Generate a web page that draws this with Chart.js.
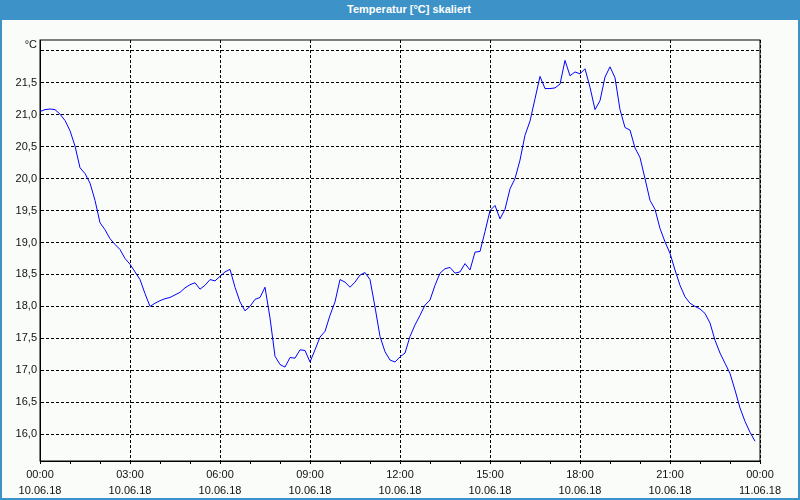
<!DOCTYPE html>
<html>
<head>
<meta charset="utf-8">
<script src="https://cdn.jsdelivr.net/npm/chart.js@4.4.1/dist/chart.umd.min.js"></script>
<style>
  html, body { margin: 0; padding: 0; background: #fff; }
  #frame { position: relative; width: 800px; height: 500px; background: #fafcfa; box-sizing: border-box;
           border-left: 2px solid #3d92c8; border-right: 2px solid #3d92c8; border-bottom: 2px solid #3d92c8; }
  #title { position: absolute; left: -2px; top: 0; width: 800px; height: 20px; background: #3d92c8;
           color: #fff; font: bold 11px "Liberation Sans", Arial, sans-serif; line-height: 19px; text-align: center; text-indent: 18px; }
  #wrap { position: absolute; left: -2px; top: 20px; width: 800px; height: 478px; }
</style>
</head>
<body>
<div id="frame">
  <div id="title">Temperatur [°C] skaliert</div>
  <div id="wrap"><canvas id="chart"></canvas></div>
</div>
<script>
// Messreihe 10.06.18, alle 10 Minuten ab 00:00
const startDate = "10.06.18";
const endDate = "11.06.18";
const stepMinutes = 10;
const temperatures = [
  21.05, 21.08, 21.09, 21.08, 21.01, 20.91, 20.75, 20.51, 20.17, 20.08, 19.93, 19.66,
  19.31, 19.20, 19.06, 18.97, 18.89, 18.75, 18.66, 18.54, 18.42, 18.20, 18.00, 18.05,
  18.09, 18.12, 18.14, 18.18, 18.22, 18.29, 18.34, 18.37, 18.27, 18.33, 18.42, 18.40,
  18.47, 18.54, 18.58, 18.30, 18.07, 17.93, 18.00, 18.11, 18.14, 18.30, 17.82, 17.22,
  17.09, 17.05, 17.20, 17.19, 17.32, 17.31, 17.13, 17.32, 17.52, 17.61, 17.86, 18.07,
  18.42, 18.38, 18.30, 18.38, 18.49, 18.53, 18.42, 17.99, 17.53, 17.29, 17.16, 17.13,
  17.21, 17.27, 17.53, 17.71, 17.86, 18.02, 18.10, 18.33, 18.52, 18.59, 18.61, 18.52,
  18.54, 18.67, 18.57, 18.85, 18.86, 19.17, 19.50, 19.58, 19.37, 19.52, 19.84, 20.00,
  20.29, 20.68, 20.90, 21.25, 21.60, 21.41, 21.41, 21.42, 21.48, 21.85, 21.61, 21.67,
  21.64, 21.72, 21.43, 21.08, 21.22, 21.59, 21.75, 21.58, 21.08, 20.80, 20.76, 20.48,
  20.33, 20.00, 19.66, 19.52, 19.22, 19.01, 18.83, 18.57, 18.33, 18.15, 18.05, 18.00,
  17.96, 17.89, 17.74, 17.47, 17.27, 17.11, 16.95, 16.69, 16.41, 16.20, 16.03, 15.89
];
const yTicks = [16.0, 16.5, 17.0, 17.5, 18.0, 18.5, 19.0, 19.5, 20.0, 20.5, 21.0, 21.5, 22.0];
const xLabelHours = [0, 3, 6, 9, 12, 15, 18, 21, 24];
const yUnit = "°C";

const points = temperatures.map((t, i) => ({ x: i * stepMinutes / 60, y: t }));

const fontName = "'Liberation Sans Narrow', 'Liberation Sans', Arial, sans-serif";

const unitLabel = {
  id: "unitLabel",
  afterDraw(chart) {
    const { ctx, chartArea } = chart;
    ctx.save();
    ctx.font = "11px " + fontName;
    ctx.fillStyle = "#111";
    ctx.textAlign = "right";
    ctx.textBaseline = "middle";
    ctx.fillText(yUnit, chartArea.left - 3, chartArea.top + 5);
    // Rahmen um den Plotbereich
    ctx.strokeStyle = "#000";
    ctx.lineWidth = 1;
    ctx.strokeRect(chartArea.left, chartArea.top, chartArea.right - chartArea.left, chartArea.bottom - chartArea.top);
    ctx.restore();
  }
};

new Chart(document.getElementById("chart"), {
  type: "line",
  data: {
    datasets: [{
      data: points,
      borderColor: "#0000ff",
      borderWidth: 1,
      pointRadius: 0,
      tension: 0,
      fill: false
    }]
  },
  options: {
    responsive: true,
    maintainAspectRatio: false,
    animation: false,
    layout: { padding: { left: 0, top: 20, right: 40, bottom: 0 } },
    plugins: { legend: { display: false }, tooltip: { enabled: false } },
    scales: {
      x: {
        type: "linear",
        min: 0,
        max: 24,
        afterBuildTicks: (s) => { s.ticks = Array.from({ length: 25 }, (_, h) => ({ value: h })); },
        afterFit: (s) => { s.height = 37; },
        ticks: {
          autoSkip: false,
          maxRotation: 0,
          padding: 3,
          color: "#111",
          font: { family: fontName, size: 11, lineHeight: 1.45 },
          callback: (v) => {
            if (!xLabelHours.includes(v)) return "";
            const hh = String(v % 24).padStart(2, "0") + ":00";
            return [hh, v === 24 ? endDate : startDate];
          }
        },
        grid: {
          color: (c) => (c.tick && xLabelHours.includes(c.tick.value) ? "#000" : "transparent"),
          tickColor: "#000",
          tickLength: 3,
          lineWidth: 1
        },
        border: { display: true, color: "#000", width: 1, dash: [3, 2] }
      },
      y: {
        min: 15.58,
        max: 22.17,
        afterBuildTicks: (s) => { s.ticks = yTicks.map((v) => ({ value: v })); },
        afterFit: (s) => { s.width = 40; },
        ticks: {
          padding: 3,
          color: "#111",
          font: { family: fontName, size: 11 },
          callback: (v) => (v >= 22 ? "" : v.toFixed(1).replace(".", ","))
        },
        grid: { color: "#000", drawTicks: false, lineWidth: 1 },
        border: { display: true, color: "#000", width: 1, dash: [3, 2] }
      }
    }
  },
  plugins: [unitLabel]
});
</script>
</body>
</html>
